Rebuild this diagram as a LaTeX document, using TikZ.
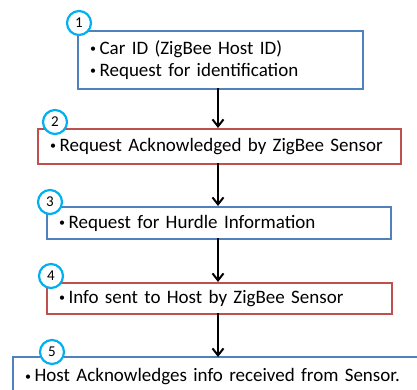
\documentclass[tikz,border=0pt]{standalone}
\usepackage{fontspec}
\setmainfont{Carlito}
\usetikzlibrary{arrows.meta}
\definecolor{boxblue}{HTML}{4F81BD}
\definecolor{boxred}{HTML}{C0504D}
\definecolor{numcyan}{HTML}{00B0F0}
\newcommand\mybul{\raisebox{1.8pt}{\fontsize{12}{12}\selectfont•}\hspace{3.5pt}}
\tikzset{
  stepbox/.style={draw, line width=2.2pt, anchor=north west, inner xsep=12pt, inner ysep=0pt,
    align=left, font=\fontsize{19}{22}\selectfont},
  bluebox/.style={stepbox, draw=boxblue},
  redbox/.style={stepbox, draw=boxred},
  numcirc/.style={circle, draw=numcyan, fill=white, line width=2.2pt, minimum size=24pt, inner sep=0pt,
    font=\fontsize{15}{15}\selectfont},
  flow/.style={-{Straight Barb[length=7pt,width=11pt]}, line width=2pt, black}
}
\begin{document}
\begin{tikzpicture}[x=1pt,y=-1pt]
\useasboundingbox (0,0) rectangle (417,390);
\begin{scope}
\clip (0,0) rectangle (417,390);
\node[bluebox, minimum width=285pt, minimum height=58pt, text width=261pt] (b1) at (77,30)
  {\mybul Car ID (ZigBee Host ID)\\\mybul Request for identification};
\node[redbox, minimum width=363pt, minimum height=35pt, text width=339pt] (b2) at (37,128)
  {\mybul Request Acknowledged by ZigBee Sensor};
\node[bluebox, minimum width=344pt, minimum height=32pt, text width=320pt] (b3) at (46,206)
  {\mybul Request for Hurdle Information};
\node[redbox, minimum width=345pt, minimum height=31pt, text width=321pt] (b4) at (46,282)
  {\mybul Info sent to Host by ZigBee Sensor};
\node[bluebox, minimum width=420pt, minimum height=40pt, text width=396pt, anchor=west] (b5) at (12,377)
  {\mybul Host Acknowledges info received from Sensor.};
\end{scope}
\coordinate (a1) at (218,88);
\coordinate (a2) at (218,128);
\coordinate (a3) at (218,163);
\coordinate (a4) at (218,206);
\coordinate (a5) at (218,238);
\coordinate (a6) at (218,282);
\coordinate (a7) at (218,313);
\coordinate (a8) at (218,357);
\draw[flow] (a1) -- (a2);
\draw[flow] (a3) -- (a4);
\draw[flow] (a5) -- (a6);
\draw[flow] (a7) -- (a8);
\node[numcirc] (c1) at (79,23) {1};
\node[numcirc] (c2) at (55,122) {2};
\node[numcirc] (c3) at (50,202) {3};
\node[numcirc] (c4) at (51,276) {4};
\node[numcirc] (c5) at (52,352) {5};
\end{tikzpicture}
\end{document}
